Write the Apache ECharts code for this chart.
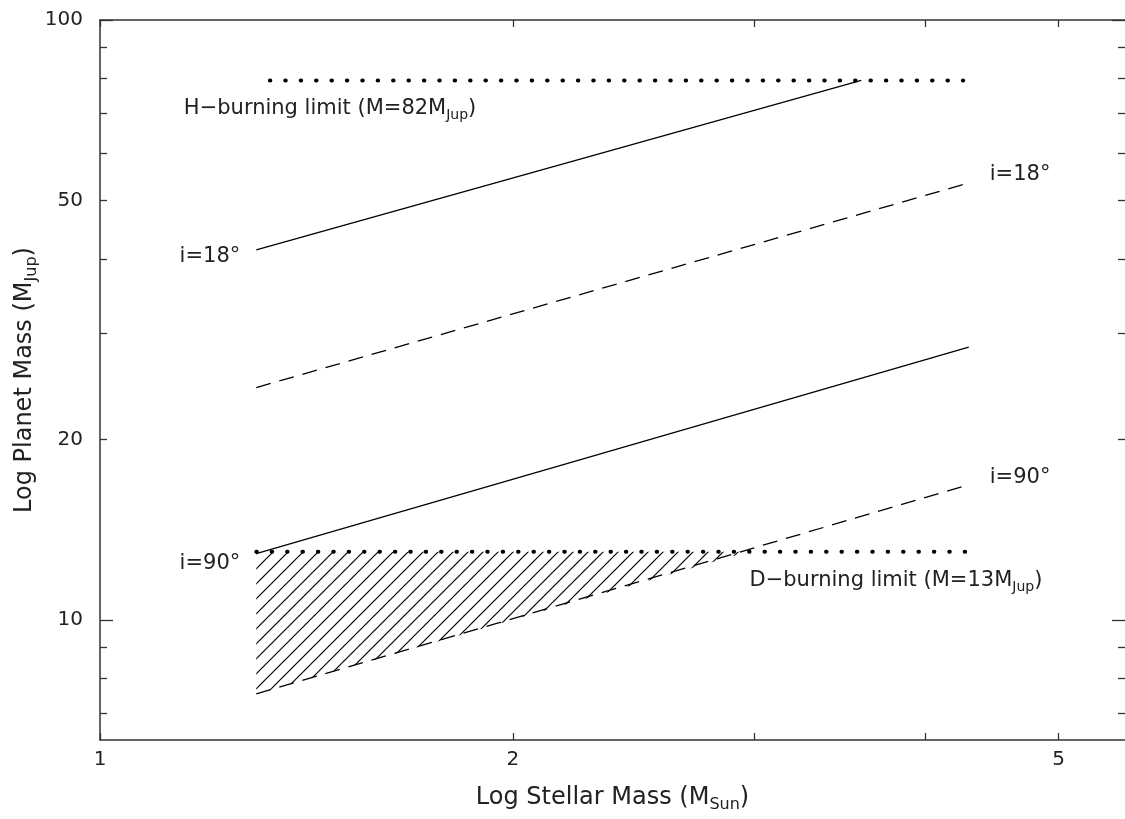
<!DOCTYPE html>
<html><head><meta charset="utf-8">
<script src="https://cdn.jsdelivr.net/npm/echarts@6/dist/echarts.min.js"></script>
<style>html,body{margin:0;padding:0;background:#fff}#c{width:1125px;height:819px}</style>
</head><body><div id="c"></div>
<script>
// ---- axis ranges & ticks ----
const xLimits = [1, 5.59];
const yLimits = [6.31, 100];
const xTickLabels = [1, 2, 5];
const xTicks = [1, 2, 3, 4, 5];
const yTickLabels = [10, 20, 50, 100];
const yMajorTicks = [10, 100];
const yMinorTicks = [7, 8, 9, 20, 30, 40, 50, 60, 70, 80, 90];

// ---- series values (stellar mass, planet mass) ----
const solidUpperX = [1.30, 3.59];  const solidUpperY = [41.4, 79.3];   // i=18°, solid
const dashedUpperX = [1.30, 4.30]; const dashedUpperY = [24.4, 53.5];  // i=18°, dashed
const solidLowerX = [1.30, 4.30];  const solidLowerY = [12.9, 28.5];   // i=90°, solid
const dashedLowerX = [1.30, 4.30]; const dashedLowerY = [7.53, 16.8];  // i=90°, dashed
const hLimitX = [1.33, 4.26];      const hLimitY = [79.3, 79.3];       // H-burning
const dLimitX = [1.30, 4.29];      const dLimitY = [13, 13];           // D-burning
const hatchX = [1.30, 2.97];       const hatchTopY = [13, 13]; const hatchBottomY = [7.53, 13];

const FONT = 'DejaVu Sans';
const TXT = '#222';
const AX = '#333';
const lg = v => Math.log10(v);

const subRich = { s: { fontFamily: FONT, fontSize: 14, color: TXT, padding: [14, 0, 0, 0] } };
const subRichTitle = { s: { fontFamily: FONT, fontSize: 16, color: TXT, padding: [15, 0, 0, 0] } };
const labelBase = { show: true, fontFamily: FONT, fontSize: 21, color: TXT, rich: subRich };

function pts(xs, ys) { return xs.map((x, i) => [x, ys[i]]); }
function withLabel(data, idx, label) {
  data[idx] = { value: data[idx], label: Object.assign({}, labelBase, label) };
  return data;
}

// hatch pattern tile ("/" diagonals)
const tile = document.createElement('canvas');
tile.width = 15; tile.height = 15;
const g = tile.getContext('2d');
g.strokeStyle = '#000'; g.lineWidth = 1.2;
[0, 15, 30].forEach(c => { g.beginPath(); g.moveTo(c + 2, -2); g.lineTo(c - 17, 17); g.stroke(); });
const hatchFill = { image: tile, repeat: 'repeat' };

function lineSeries(data, style) {
  return {
    type: 'line', xAxisIndex: 0, yAxisIndex: 0, data: data,
    symbol: 'circle', symbolSize: 0, showSymbol: true,
    lineStyle: style, itemStyle: { color: '#000' },
    emphasis: { disabled: true }, silent: true, z: 3
  };
}

const solidStyle = { color: '#000', width: 1.3, type: 'solid' };
const dashedStyle = { color: '#000', width: 1.3, type: [15, 9] };
const dottedStyle = { color: '#000', width: 4, type: [0.5, 14.9], cap: 'round' };

const tickAxisBase = {
  type: 'value', axisLine: { show: false }, splitLine: { show: false },
  axisLabel: { show: false }
};

const option = {
  animation: false,
  backgroundColor: '#fff',
  grid: { left: 100, right: -1, top: 20, bottom: 79, containLabel: false },
  xAxis: [
    { type: 'log', position: 'bottom', min: xLimits[0], max: xLimits[1],
      axisLine: { show: true, lineStyle: { color: AX, width: 1.5 } },
      axisTick: { show: false }, axisLabel: { show: false }, splitLine: { show: false },
      name: 'Log Stellar Mass (M{s|Sun})', nameLocation: 'middle', nameGap: 42,
      nameTextStyle: { fontFamily: FONT, fontSize: 24, color: TXT, rich: subRichTitle } },
    Object.assign({}, tickAxisBase, { position: 'bottom', min: lg(xLimits[0]), max: lg(xLimits[1]),
      axisTick: { show: true, inside: true, length: 7, lineStyle: { color: AX, width: 1.3 }, customValues: xTicks.map(lg) },
      axisLabel: { show: true, margin: 10, fontFamily: FONT, fontSize: 20, color: TXT,
        customValues: xTickLabels.map(lg), formatter: v => String(Math.round(Math.pow(10, v))) } }),
    Object.assign({}, tickAxisBase, { position: 'top', min: lg(xLimits[0]), max: lg(xLimits[1]),
      axisLine: { show: true, lineStyle: { color: AX, width: 1.5 } },
      axisTick: { show: true, inside: true, length: 7, lineStyle: { color: AX, width: 1.3 }, customValues: xTicks.map(lg) } })
  ],
  yAxis: [
    { type: 'log', position: 'left', min: yLimits[0], max: yLimits[1],
      axisLine: { show: true, lineStyle: { color: AX, width: 1.5 } },
      axisTick: { show: false }, axisLabel: { show: false }, splitLine: { show: false },
      name: 'Log Planet Mass (M{s|Jup})', nameLocation: 'middle', nameGap: 60,
      nameTextStyle: { fontFamily: FONT, fontSize: 24, color: TXT, rich: subRichTitle } },
    Object.assign({}, tickAxisBase, { position: 'left', min: lg(yLimits[0]), max: lg(yLimits[1]),
      axisTick: { show: true, inside: true, length: 13, lineStyle: { color: AX, width: 1.3 }, customValues: yMajorTicks.map(lg) },
      axisLabel: { show: true, margin: 17, fontFamily: FONT, fontSize: 20, color: TXT,
        customValues: yTickLabels.map(lg), formatter: v => String(Math.round(Math.pow(10, v))) } }),
    Object.assign({}, tickAxisBase, { position: 'left', min: lg(yLimits[0]), max: lg(yLimits[1]),
      axisTick: { show: true, inside: true, length: 7, lineStyle: { color: AX, width: 1.3 }, customValues: yMinorTicks.map(lg) } }),
    Object.assign({}, tickAxisBase, { position: 'right', min: lg(yLimits[0]), max: lg(yLimits[1]),
      axisLine: { show: false },
      axisTick: { show: true, inside: true, length: 13, lineStyle: { color: AX, width: 1.3 }, customValues: yMajorTicks.map(lg) } }),
    Object.assign({}, tickAxisBase, { position: 'right', min: lg(yLimits[0]), max: lg(yLimits[1]),
      axisTick: { show: true, inside: true, length: 7, lineStyle: { color: AX, width: 1.3 }, customValues: yMinorTicks.map(lg) } })
  ],
  series: [
    { type: 'custom', xAxisIndex: 0, yAxisIndex: 0, silent: true, clip: true, z: 2,
      data: [[hatchX[0], hatchTopY[0]]],
      renderItem: function (params, api) {
        const p = [];
        for (let i = 0; i < hatchX.length; i++) p.push(api.coord([hatchX[i], hatchTopY[i]]));
        for (let i = hatchX.length - 1; i >= 0; i--) p.push(api.coord([hatchX[i], hatchBottomY[i]]));
        return { type: 'polygon', shape: { points: p }, style: { fill: hatchFill, stroke: null } };
      } },
    lineSeries(withLabel(pts(solidUpperX, solidUpperY), 0,
      { formatter: 'i=18°', position: 'left', distance: 16, offset: [0, 7] }), solidStyle),
    lineSeries(withLabel(pts(dashedUpperX, dashedUpperY), 1,
      { formatter: 'i=18°', position: 'right', distance: 21, offset: [0, -8] }), dashedStyle),
    lineSeries(withLabel(pts(solidLowerX, solidLowerY), 0,
      { formatter: 'i=90°', position: 'left', distance: 16, offset: [0, 10] }), solidStyle),
    lineSeries(withLabel(pts(dashedLowerX, dashedLowerY), 1,
      { formatter: 'i=90°', position: 'right', distance: 21, offset: [0, -7] }), dashedStyle),
    Object.assign(lineSeries(withLabel(pts(hLimitX, hLimitY), 0,
      { formatter: 'H−burning limit (M=82M{s|Jup})', position: 'right', distance: 0, offset: [-86, 28] }), dottedStyle), { z: 4 }),
    Object.assign(lineSeries(withLabel(pts(dLimitX, dLimitY), 1,
      { formatter: 'D−burning limit (M=13M{s|Jup})', position: 'left', distance: 0, offset: [75, 29] }), dottedStyle), { z: 4 })
  ]
};

const chart = echarts.init(document.getElementById('c'), null, { renderer: 'canvas' });
chart.setOption(option);
</script>
</body></html>
